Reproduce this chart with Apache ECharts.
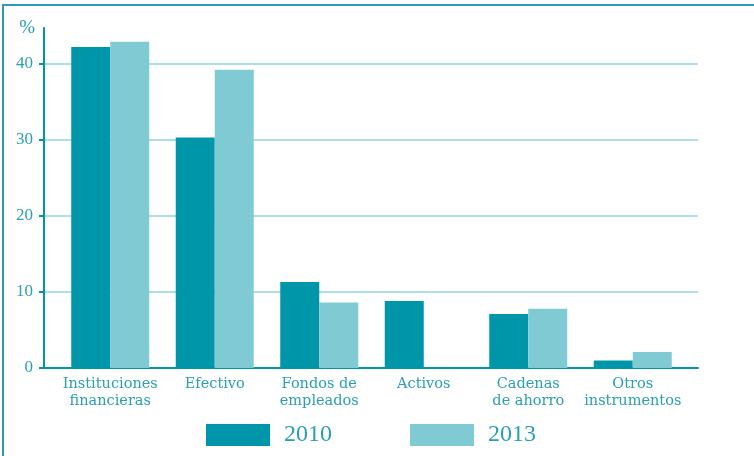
<!DOCTYPE html>
<html>
<head>
<meta charset="utf-8">
<script src="https://cdn.jsdelivr.net/npm/echarts@6/dist/echarts.min.js"></script>
<style>
  html, body { margin: 0; padding: 0; background: #fff; }
  #wrap { position: relative; width: 754px; height: 456px; overflow: hidden; }
  #frame { position: absolute; left: 2px; top: 4px; right: -10px; bottom: -10px;
           border-left: 2px solid #2a9db2; border-top: 2px solid #2a9db2; }
  #chart { position: absolute; left: 0; top: 0; width: 754px; height: 456px; }
</style>
</head>
<body>
<div id="wrap">
  <div id="frame"></div>
  <div id="chart"></div>
</div>
<script>
// Categories and shares (%) by year
const categories = ['Instituciones\nfinancieras', 'Efectivo', 'Fondos de\nempleados', 'Activos', 'Cadenas\nde ahorro', 'Otros\ninstrumentos'];
const years = ['2010', '2013'];
const values2010 = [42.2, 30.3, 11.3, 8.8, 7.1, 1.0];
const values2013 = [42.9, 39.2, 8.6, 0, 7.8, 2.1];
const yTicks = [0, 10, 20, 30, 40];

const DARK = '#0096aa';
const LIGHT = '#80cad4';
const TEXT = '#2a9fb4';
const GRIDLINE = '#ade0e5';
const FONT = '"Liberation Serif", "DejaVu Serif", serif';
const LABEL_FONT = '"DejaVu Serif", serif';
const Y_MAX = 44.7;

const chart = echarts.init(document.getElementById('chart'), null, { renderer: 'canvas' });
chart.setOption({
  animation: false,
  textStyle: { fontFamily: FONT },
  grid: [
    { left: 44, right: 56, top: 28, bottom: 88 },
    { left: 58, right: 69, top: 28, bottom: 88 }
  ],
  legend: {
    data: years,
    bottom: 9,
    left: 206,
    padding: 0,
    itemWidth: 64,
    itemHeight: 22,
    itemGap: 78,
    icon: 'rect',
    textStyle: { color: TEXT, fontSize: 24, fontFamily: FONT, padding: [0, 0, 0, 9] }
  },
  xAxis: [
    {
      gridIndex: 0, type: 'value', min: 0, max: 1,
      axisLine: { show: true, lineStyle: { color: DARK, width: 2 } },
      axisTick: { show: false }, axisLabel: { show: false }, splitLine: { show: false }
    },
    {
      gridIndex: 1, type: 'category', data: categories,
      axisLine: { show: false }, axisTick: { show: false }, splitLine: { show: false },
      axisLabel: { color: TEXT, fontSize: 14.5, lineHeight: 17, margin: 8, fontFamily: LABEL_FONT, interval: 0 }
    }
  ],
  yAxis: [
    {
      gridIndex: 0, type: 'value', min: 0, max: Y_MAX, interval: 10,
      name: '%', nameLocation: 'end', nameGap: 0,
      nameTextStyle: { color: TEXT, fontSize: 19, fontFamily: FONT, align: 'right', verticalAlign: 'middle', padding: [0, 9, 0, 0] },
      axisLine: { show: true, lineStyle: { color: DARK, width: 2 } },
      axisTick: { show: true, length: 5, lineStyle: { color: DARK, width: 2 }, customValues: yTicks },
      axisLabel: { color: TEXT, fontSize: 17, margin: 11, fontFamily: FONT, customValues: yTicks },
      splitLine: { show: true, showMinLine: false, lineStyle: { color: GRIDLINE, width: 2 } }
    },
    {
      gridIndex: 1, type: 'value', min: 0, max: Y_MAX, show: false,
      splitLine: { show: false }
    }
  ],
  series: [
    {
      name: years[0], type: 'bar', xAxisIndex: 1, yAxisIndex: 1,
      data: values2010, barWidth: 39, barGap: '0%',
      itemStyle: { color: DARK }
    },
    {
      name: years[1], type: 'bar', xAxisIndex: 1, yAxisIndex: 1,
      data: values2013, barWidth: 39, barGap: '0%',
      itemStyle: { color: LIGHT }
    }
  ]
});
</script>
</body>
</html>
